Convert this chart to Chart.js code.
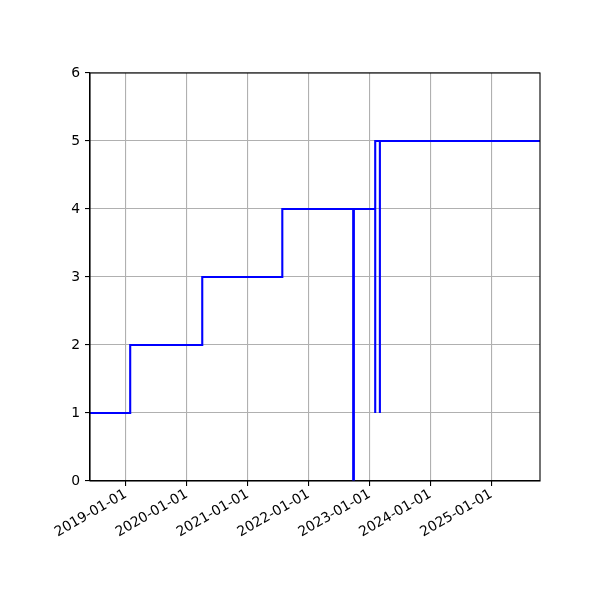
<!DOCTYPE html>
<html>
<head>
<meta charset="utf-8">
<script src="https://cdn.jsdelivr.net/npm/chart.js@4.4.1/dist/chart.umd.min.js"></script>
<style>
  html, body { margin: 0; padding: 0; background: #ffffff; }
  #wrap { width: 600px; height: 600px; }
</style>
</head>
<body>
<div id="wrap"><canvas id="c" width="600" height="600"></canvas></div>
<script>
// ---- data ----
const stepDates = ['2018-05-31', '2019-01-27', '2020-04-03', '2021-07-27', '2022-09-25', '2022-09-29',
                   '2023-02-04', '2023-02-04', '2023-03-04', '2023-03-04', '2025-10-19'];
const stepValues = [1, 2, 3, 4, 0, 4, 1, 5, 1, 5, 5];
const xTickDates = ['2019-01-01', '2020-01-01', '2021-01-01', '2022-01-01', '2023-01-01', '2024-01-01', '2025-01-01'];
const xRange = ['2018-05-31', '2025-10-19'];
const yTicks = [0, 1, 2, 3, 4, 5, 6];

const toMs = s => Date.parse(s + 'T00:00:00Z');
const fmt = ms => new Date(ms).toISOString().slice(0, 10);

const points = stepDates.map((d, i) => ({ x: toMs(d), y: stepValues[i] }));

const FONT = { family: 'DejaVu Sans', size: 13.9 };

const framePlugin = {
  id: 'frame',
  afterDatasetsDraw(chart) {
    const { ctx, chartArea: a } = chart;
    ctx.save();
    ctx.strokeStyle = '#000000';
    ctx.lineWidth = 1.1;
    ctx.strokeRect(a.left, a.top, a.right - a.left, a.bottom - a.top);
    ctx.restore();
  }
};

new Chart(document.getElementById('c'), {
  type: 'line',
  data: {
    datasets: [{
      data: points,
      stepped: 'before',
      borderColor: '#0000ff',
      borderWidth: 2.1,
      pointRadius: 0,
      fill: false,
      tension: 0
    }]
  },
  options: {
    responsive: false,
    animation: false,
    devicePixelRatio: 1,
    layout: { padding: { left: 0, top: 73, right: 60, bottom: 0 } },
    plugins: { legend: { display: false }, tooltip: { enabled: false } },
    scales: {
      x: {
        type: 'linear',
        min: toMs(xRange[0]),
        max: toMs(xRange[1]),
        afterBuildTicks: s => { s.ticks = xTickDates.map(d => ({ value: toMs(d) })); },
        afterFit: s => { s.height = 119; },
        ticks: {
          callback: v => fmt(v),
          minRotation: 30,
          maxRotation: 30,
          autoSkip: false,
          color: '#000000',
          font: FONT,
          padding: 0
        },
        grid: { color: '#b0b0b0', lineWidth: 1.1, tickColor: '#000000', tickLength: 5 },
        border: { color: '#000000', width: 1.1 }
      },
      y: {
        type: 'linear',
        min: 0,
        max: 6,
        afterBuildTicks: s => { s.ticks = yTicks.map(v => ({ value: v })); },
        afterFit: s => { s.width = 90; },
        ticks: { color: '#000000', font: FONT, padding: 5 },
        grid: { color: '#b0b0b0', lineWidth: 1.1, tickColor: '#000000', tickLength: 5 },
        border: { color: '#000000', width: 1.1 }
      }
    }
  },
  plugins: [framePlugin]
});
</script>
</body>
</html>
